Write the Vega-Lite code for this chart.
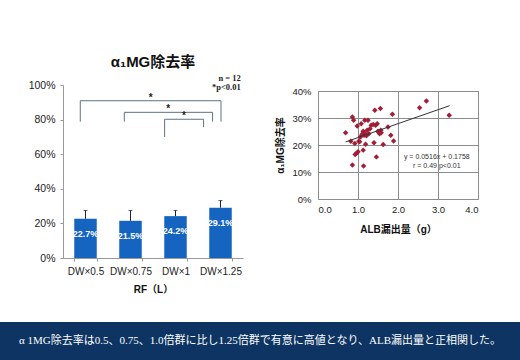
{
  "$schema": "https://vega.github.io/schema/vega-lite/v6.json",
  "background": "white",
  "padding": {"left": 0, "top": 54, "right": 0, "bottom": 0},
  "config": {
    "view": {"stroke": null},
    "font": "Liberation Sans, Noto Sans CJK JP",
    "axis": {"labelFont": "Liberation Sans, Noto Sans CJK JP", "titleFont": "Liberation Sans, Noto Sans CJK JP", "labelColor": "#222", "titleColor": "#111"}
  },
  "datasets": {
    "bars": [
      {"rf": "DW×0.5", "rate": 0.227, "upper": 0.275},
      {"rf": "DW×0.75", "rate": 0.215, "upper": 0.275},
      {"rf": "DW×1", "rate": 0.242, "upper": 0.275},
      {"rf": "DW×1.25", "rate": 0.291, "upper": 0.332}
    ],
    "brackets": [
      {"x1": 0.384, "x2": 3.511, "y1": 0.909, "y2": 0.909},
      {"x1": 0.384, "x2": 0.384, "y1": 0.788, "y2": 0.909},
      {"x1": 3.511, "x2": 3.511, "y1": 0.788, "y2": 0.909},
      {"x1": 1.362, "x2": 3.324, "y1": 0.842, "y2": 0.842},
      {"x1": 1.362, "x2": 1.362, "y1": 0.788, "y2": 0.842},
      {"x1": 3.324, "x2": 3.324, "y1": 0.788, "y2": 0.842},
      {"x1": 2.258, "x2": 3.124, "y1": 0.802, "y2": 0.802},
      {"x1": 2.258, "x2": 2.258, "y1": 0.70, "y2": 0.802},
      {"x1": 3.124, "x2": 3.124, "y1": 0.756, "y2": 0.802}
    ],
    "stars": [
      {"x": 1.95, "y": 0.909, "t": "*"},
      {"x": 2.34, "y": 0.842, "t": "*"},
      {"x": 2.69, "y": 0.802, "t": "*"}
    ],
    "notes": [
      {"x": 3.95, "y": 1.042, "t": "n = 12"},
      {"x": 3.95, "y": 0.99, "t": "*p<0.01"}
    ],
    "scatter": [
      {"alb": 0.69, "rate": 0.245}, {"alb": 0.82, "rate": 0.214}, {"alb": 0.86, "rate": 0.304},
      {"alb": 0.89, "rate": 0.292}, {"alb": 0.86, "rate": 0.126}, {"alb": 0.92, "rate": 0.206},
      {"alb": 0.96, "rate": 0.169}, {"alb": 1.00, "rate": 0.175}, {"alb": 0.98, "rate": 0.270},
      {"alb": 1.02, "rate": 0.214}, {"alb": 1.04, "rate": 0.212}, {"alb": 1.06, "rate": 0.230},
      {"alb": 1.08, "rate": 0.279}, {"alb": 1.13, "rate": 0.251}, {"alb": 1.13, "rate": 0.181},
      {"alb": 1.14, "rate": 0.122}, {"alb": 1.15, "rate": 0.236}, {"alb": 1.17, "rate": 0.292},
      {"alb": 1.18, "rate": 0.242}, {"alb": 1.19, "rate": 0.203}, {"alb": 1.21, "rate": 0.234},
      {"alb": 1.23, "rate": 0.255}, {"alb": 1.25, "rate": 0.292}, {"alb": 1.27, "rate": 0.242},
      {"alb": 1.33, "rate": 0.273}, {"alb": 1.38, "rate": 0.276}, {"alb": 1.40, "rate": 0.208},
      {"alb": 1.42, "rate": 0.329}, {"alb": 1.44, "rate": 0.273}, {"alb": 1.46, "rate": 0.156},
      {"alb": 1.48, "rate": 0.279}, {"alb": 1.50, "rate": 0.251}, {"alb": 1.52, "rate": 0.246},
      {"alb": 1.54, "rate": 0.242}, {"alb": 1.56, "rate": 0.335}, {"alb": 1.57, "rate": 0.255},
      {"alb": 1.58, "rate": 0.245}, {"alb": 1.63, "rate": 0.202}, {"alb": 1.75, "rate": 0.267},
      {"alb": 1.82, "rate": 0.236}, {"alb": 1.86, "rate": 0.314}, {"alb": 1.89, "rate": 0.215},
      {"alb": 2.54, "rate": 0.338}, {"alb": 2.71, "rate": 0.363}, {"alb": 3.28, "rate": 0.310},
      {"alb": 0.93, "rate": 0.165}, {"alb": 1.10, "rate": 0.240}, {"alb": 1.30, "rate": 0.260}
    ],
    "trend": [
      {"alb": 0.69, "rate": 0.2114},
      {"alb": 3.29, "rate": 0.3456}
    ],
    "eq": [
      {"x": 2.97, "y": 0.156, "t": "y = 0.0516x + 0.1758"},
      {"x": 2.97, "y": 0.123, "t": "r = 0.49 p<0.01"}
    ]
  },
  "vconcat": [
    {
      "hconcat": [
        {
          "width": 1,
          "height": 1,
          "data": {"values": [{"t": ""}]},
          "mark": {"type": "text"},
          "encoding": {"text": {"field": "t"}}
        },
        {
          "hconcat": [
            {
              "width": 180,
              "height": 173,
              "title": {"text": "α₁MG除去率", "fontSize": 15, "fontWeight": "bold", "offset": 4, "color": "#111", "font": "Liberation Sans, Noto Sans CJK JP"},
              "layer": [
                {
                  "layer": [
                    {
                      "data": {"name": "bars"},
                      "mark": {"type": "bar", "color": "#1464c0"},
                      "encoding": {
                        "x": {"field": "rf", "type": "nominal", "sort": null,
                          "scale": {"paddingInner": 0.5, "paddingOuter": 0.25},
                          "axis": {"title": "RF（L）", "labelAngle": 0, "labelFontSize": 10, "labelPadding": 5.5, "tickBand": "extent", "tickSize": 3, "tickColor": "#999", "domainColor": "#999", "titleFontSize": 10, "titleFontWeight": "bold", "titlePadding": 8}},
                        "y": {"field": "rate", "type": "quantitative", "scale": {"domain": [0, 1]},
                          "axis": {"title": null, "values": [0, 0.2, 0.4, 0.6, 0.8, 1], "tickCount": 20, "labelOverlap": false, "format": ".0%", "grid": false, "tickSize": 3, "tickColor": "#999", "domainColor": "#999", "labelFontSize": 10.5, "labelPadding": 5, "minExtent": 61.7}}
                      }
                    },
                    {
                      "data": {"name": "bars"},
                      "mark": {"type": "rule", "color": "#1a2230", "strokeWidth": 1},
                      "encoding": {
                        "x": {"field": "rf", "type": "nominal", "sort": null},
                        "y": {"field": "rate", "type": "quantitative"},
                        "y2": {"field": "upper"}
                      }
                    },
                    {
                      "data": {"name": "bars"},
                      "mark": {"type": "tick", "color": "#1a2230", "size": 4, "thickness": 1},
                      "encoding": {
                        "x": {"field": "rf", "type": "nominal", "sort": null},
                        "y": {"field": "upper", "type": "quantitative"}
                      }
                    },
                    {
                      "data": {"name": "bars"},
                      "mark": {"type": "text", "color": "white", "fontSize": 9, "fontWeight": "bold", "dy": 15},
                      "encoding": {
                        "x": {"field": "rf", "type": "nominal", "sort": null},
                        "y": {"field": "rate", "type": "quantitative"},
                        "text": {"field": "rate", "type": "quantitative", "format": ".1%"}
                      }
                    }
                  ]
                },
                {
                  "layer": [
                    {
                      "data": {"name": "brackets"},
                      "mark": {"type": "rule", "color": "#5b7385", "strokeWidth": 1},
                      "encoding": {
                        "x": {"field": "x1", "type": "quantitative", "scale": {"domain": [0, 4], "nice": false, "zero": false}, "axis": null},
                        "x2": {"field": "x2"},
                        "y": {"field": "y1", "type": "quantitative"},
                        "y2": {"field": "y2"}
                      }
                    },
                    {
                      "data": {"name": "stars"},
                      "mark": {"type": "text", "fontSize": 10, "baseline": "alphabetic", "color": "#222", "fontWeight": "bold"},
                      "encoding": {
                        "x": {"field": "x", "type": "quantitative"},
                        "y": {"field": "y", "type": "quantitative"},
                        "text": {"field": "t"}
                      }
                    },
                    {
                      "data": {"name": "notes"},
                      "mark": {"type": "text", "fontSize": 8.5, "align": "right", "color": "#222", "font": "Liberation Serif", "fontWeight": "bold"},
                      "encoding": {
                        "x": {"field": "x", "type": "quantitative"},
                        "y": {"field": "y", "type": "quantitative"},
                        "text": {"field": "t"}
                      }
                    }
                  ]
                }
              ],
              "resolve": {"scale": {"x": "independent"}}
            },
            {
              "vconcat": [
                {
                  "width": 1,
                  "height": 1,
                  "data": {"values": [{"t": ""}]},
                  "mark": {"type": "text"},
                  "encoding": {"text": {"field": "t"}}
                },
                {
                  "width": 160,
                  "height": 108,
                  "view": {"stroke": "#8c8c8c"},
                  "layer": [
                    {
                      "data": {"name": "scatter"},
                      "mark": {"type": "point", "shape": "diamond", "filled": true, "color": "#a31d36", "size": 30, "opacity": 1},
                      "encoding": {
                        "x": {"field": "alb", "type": "quantitative", "scale": {"domain": [0, 4]},
                          "axis": {"title": "ALB漏出量（g）", "values": [0, 1, 2, 3, 4], "tickCount": 20, "labelOverlap": false, "format": ".1f", "domain": false, "ticks": false, "gridColor": "#8c8c8c", "gridOpacity": 1, "labelFontSize": 9.5, "labelPadding": 5, "titleFontSize": 10, "titleFontWeight": "bold", "titlePadding": 11}},
                        "y": {"field": "rate", "type": "quantitative", "scale": {"domain": [0, 0.4]},
                          "axis": {"title": "α₁MG除去率", "values": [0, 0.1, 0.2, 0.3, 0.4], "tickCount": 20, "labelOverlap": false, "format": ".0%", "domain": false, "ticks": false, "gridColor": "#8c8c8c", "gridOpacity": 1, "labelFontSize": 9.5, "labelPadding": 7, "titleFontSize": 10, "titleFontWeight": "bold", "titlePadding": 6}}
                      }
                    },
                    {
                      "data": {"name": "trend"},
                      "mark": {"type": "line", "color": "#333", "strokeWidth": 1},
                      "encoding": {
                        "x": {"field": "alb", "type": "quantitative"},
                        "y": {"field": "rate", "type": "quantitative"}
                      }
                    },
                    {
                      "data": {"name": "eq"},
                      "mark": {"type": "text", "fontSize": 7, "color": "#333"},
                      "encoding": {
                        "x": {"field": "x", "type": "quantitative"},
                        "y": {"field": "y", "type": "quantitative"},
                        "text": {"field": "t"}
                      }
                    }
                  ]
                }
              ],
              "spacing": -18
            }
          ],
          "spacing": 32
        }
      ],
      "spacing": 0
    },
    {
      "width": 520,
      "height": 38,
      "view": {"fill": "#0d3462", "stroke": null},
      "data": {"values": [{"t": "α 1MG除去率は0.5、0.75、1.0倍群に比し1.25倍群で有意に高値となり、ALB漏出量と正相関した。"}]},
      "mark": {"type": "text", "color": "white", "fontSize": 11, "font": "Liberation Serif, Noto Sans CJK JP"},
      "encoding": {"text": {"field": "t"}}
    }
  ],
  "spacing": 27
}
